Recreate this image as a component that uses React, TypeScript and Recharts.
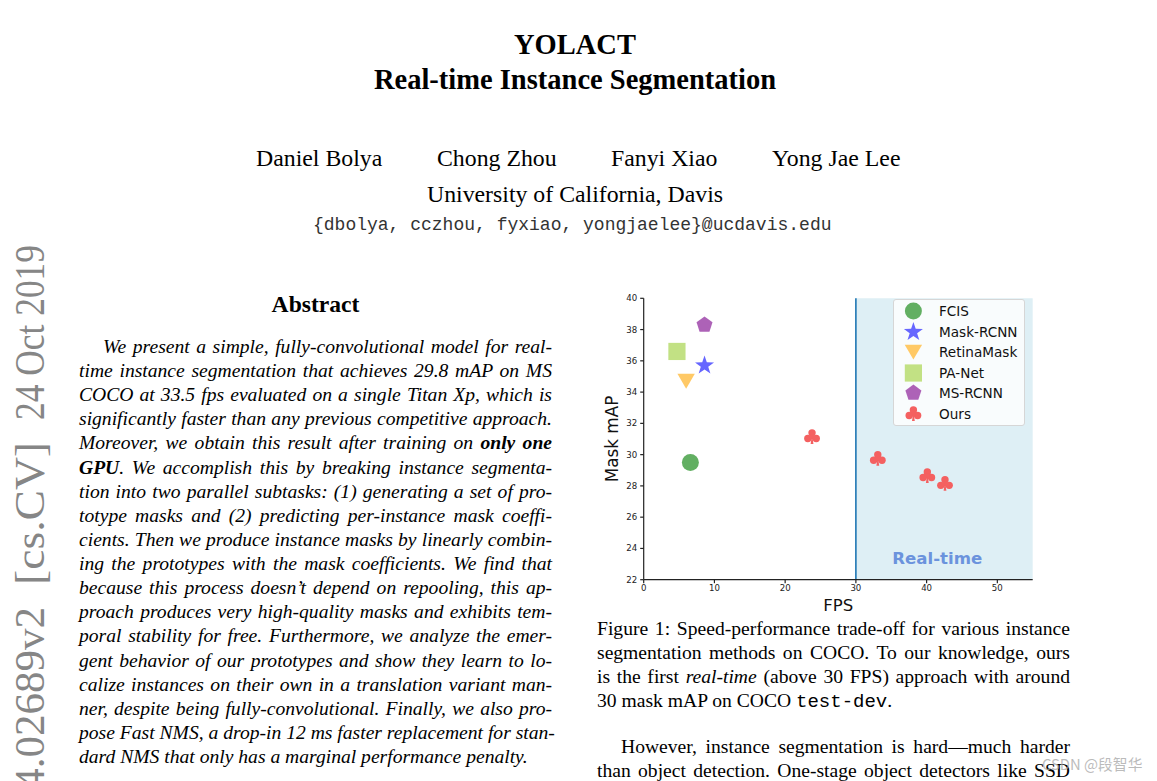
import React from "react";
import {
  ScatterChart,
  Scatter,
  XAxis,
  YAxis,
  ReferenceArea,
  ReferenceLine,
  ReferenceDot,
  Legend,
} from "recharts";

// speed (FPS) vs. mask mAP on COCO test-dev
const fcisFps = [6.6];
const fcisMap = [29.5];
const maskRcnnFps = [8.6];
const maskRcnnMap = [35.7];
const retinaMaskFps = [6.0];
const retinaMaskMap = [34.7];
const paNetFps = [4.7];
const paNetMap = [36.6];
const msRcnnFps = [8.6];
const msRcnnMap = [38.3];
const oursFps = [23.8, 33.1, 40.1, 42.6];
const oursMap = [31.1, 29.7, 28.6, 28.1];

const xTicks = [0, 10, 20, 30, 40, 50];
const yTicks = [22, 24, 26, 28, 30, 32, 34, 36, 38, 40];
const realTimeFrom = 30;
const realTimeLabel = { fps: 41.5, map: 23.4, text: "Real-time" };

const zip = (xs: number[], ys: number[]) => xs.map((x, i) => ({ fps: x, map: ys[i] }));

const SERIF = '"Liberation Serif", "Times New Roman", serif';
const MONO = '"Liberation Mono", "Courier New", monospace';
const SANS = '"DejaVu Sans", sans-serif';

type Marker = (cx: number, cy: number, color: string) => React.ReactElement;

const circle: Marker = (cx, cy, c) => <circle cx={cx} cy={cy} r={8.5} fill={c} />;

const star: Marker = (cx, cy, c) => {
  const pts: string[] = [];
  for (let i = 0; i < 10; i++) {
    const r = i % 2 === 0 ? 10 : 3.9;
    const a = (Math.PI / 5) * i - Math.PI / 2;
    pts.push(`${cx + r * Math.cos(a)},${cy + r * Math.sin(a)}`);
  }
  return <polygon points={pts.join(" ")} fill={c} />;
};

const triangleDown: Marker = (cx, cy, c) => (
  <polygon points={`${cx - 8.7},${cy - 7.3} ${cx + 8.7},${cy - 7.3} ${cx},${cy + 7.5}`} fill={c} />
);

const square: Marker = (cx, cy, c) => (
  <rect x={cx - 8.6} y={cy - 8.6} width={17.2} height={17.2} fill={c} />
);

const pentagon: Marker = (cx, cy, c) => {
  const pts: string[] = [];
  for (let i = 0; i < 5; i++) {
    const a = ((2 * Math.PI) / 5) * i - Math.PI / 2;
    pts.push(`${cx + 8.4 * Math.cos(a)},${cy + 8.4 * Math.sin(a)}`);
  }
  return <polygon points={pts.join(" ")} fill={c} />;
};

const club: Marker = (cx, cy, c) => (
  <g fill={c}>
    <circle cx={cx} cy={cy - 4.6} r={3.7} />
    <circle cx={cx - 4.2} cy={cy + 1} r={3.7} />
    <circle cx={cx + 4.2} cy={cy + 1} r={3.7} />
    <rect x={cx - 2} y={cy - 3} width={4} height={5} />
    <polygon points={`${cx - 0.6},${cy + 1} ${cx + 0.6},${cy + 1} ${cx + 1.4},${cy + 6.5} ${cx - 1.4},${cy + 6.5}`} />
  </g>
);

const series = [
  { name: "FCIS", data: zip(fcisFps, fcisMap), color: "#62af62", marker: circle },
  { name: "Mask-RCNN", data: zip(maskRcnnFps, maskRcnnMap), color: "#6666ff", marker: star },
  { name: "RetinaMask", data: zip(retinaMaskFps, retinaMaskMap), color: "#ffc966", marker: triangleDown },
  { name: "PA-Net", data: zip(paNetFps, paNetMap), color: "#c2e184", marker: square },
  { name: "MS-RCNN", data: zip(msRcnnFps, msRcnnMap), color: "#ad62b7", marker: pentagon },
  { name: "Ours", data: zip(oursFps, oursMap), color: "#f46060", marker: club },
];

function LegendBox() {
  return (
    <div
      style={{
        width: 132,
        height: 127,
        boxSizing: "border-box",
        background: "rgba(255,255,255,0.8)",
        border: "1px solid #d6d6d6",
        borderRadius: 3,
        position: "relative",
        fontFamily: SANS,
        fontSize: 13.6,
        color: "#111",
      }}
    >
      {series.map((s, i) => (
        <div key={s.name} style={{ position: "absolute", left: 0, top: 1 + i * 20.6, height: 20, width: 130 }}>
          <svg width={30} height={20} style={{ position: "absolute", left: 4, top: 0 }}>
            {s.marker(15.4, s.name === "Ours" ? 10.5 : 10, s.color)}
          </svg>
          <span style={{ position: "absolute", left: 45, top: 1, lineHeight: "18px", whiteSpace: "nowrap" }}>
            {s.name}
          </span>
        </div>
      ))}
    </div>
  );
}

function YLabel(props: any) {
  const vb = props.viewBox || { x: 0, y: 0, width: 0, height: 0 };
  const x = vb.x + 17;
  const y = vb.y + vb.height / 2;
  return (
    <text x={x} y={y} transform={`rotate(-90 ${x} ${y})`} textAnchor="middle" dominantBaseline="central"
      fontFamily={SANS} fontSize={16.8} fill="#111">
      Mask mAP
    </text>
  );
}

function XLabel(props: any) {
  const vb = props.viewBox || { x: 0, y: 0, width: 0, height: 0 };
  return (
    <text x={vb.x + vb.width / 2} y={vb.y + 26} textAnchor="middle" dominantBaseline="central"
      fontFamily={SANS} fontSize={16.5} fill="#111">
      FPS
    </text>
  );
}

function FpsChart() {
  const tick = { fontSize: 8.6, fill: "#222", fontFamily: SANS };
  return (
    <ScatterChart width={450} height={330} margin={{ top: 13.3, right: 12.3, bottom: 0, left: 0 }}>
      <ReferenceArea x1={realTimeFrom} x2={55} y1={22} y2={40} fill="#deeff5" fillOpacity={1} stroke="none" ifOverflow="visible" />
      <ReferenceLine x={realTimeFrom} stroke="#1f77b4" strokeWidth={1.6} />
      <XAxis
        type="number"
        dataKey="fps"
        domain={[0, 55]}
        ticks={xTicks}
        allowDataOverflow
        height={35.3}
        tick={tick}
        tickSize={3.5}
        tickMargin={2}
        stroke="#222"
        strokeWidth={1.2}
        label={<XLabel />}
      />
      <YAxis
        type="number"
        dataKey="map"
        domain={[22, 40]}
        ticks={yTicks}
        allowDataOverflow
        width={48.7}
        tick={tick}
        tickSize={3.5}
        tickMargin={3}
        stroke="#222"
        strokeWidth={1.2}
        label={<YLabel />}
      />
      <ReferenceDot
        x={realTimeLabel.fps}
        y={realTimeLabel.map}
        r={0}
        stroke="none"
        label={{
          value: realTimeLabel.text,
          position: "center",
          fill: "#6b93dd",
          fontSize: 16.6,
          fontWeight: "bold",
          fontFamily: SANS,
        }}
      />
      {series.map((s) => (
        <Scatter
          key={s.name}
          name={s.name}
          data={s.data}
          isAnimationActive={false}
          shape={(p: any) => s.marker(p.cx, p.cy, s.color)}
        />
      ))}
      <Legend
        layout="vertical"
        align="center"
        verticalAlign="middle"
        wrapperStyle={{ left: 298, top: 14, width: 132, height: 127 }}
        content={() => <LegendBox />}
      />
    </ScatterChart>
  );
}

type LineProps = {
  y: number;
  left: number;
  width: number;
  size?: number;
  last?: boolean;
  italic?: boolean;
  children: React.ReactNode;
};

function TextLine({ y, left, width, size = 19.6, last, italic, children }: LineProps) {
  return (
    <div
      style={{
        position: "absolute",
        top: y - 12,
        left,
        width,
        height: 24,
        lineHeight: "24px",
        fontSize: size,
        fontFamily: SERIF,
        fontStyle: italic ? "italic" : "normal",
        whiteSpace: "nowrap",
        textAlign: last ? "left" : "justify",
        textAlignLast: last ? "left" : "justify",
        color: "#000",
      }}
    >
      {children}
    </div>
  );
}

const abstractLines: React.ReactNode[] = [
  "We present a simple, fully-convolutional model for real-",
  "time instance segmentation that achieves 29.8 mAP on MS",
  "COCO at 33.5 fps evaluated on a single Titan Xp, which is",
  "significantly faster than any previous competitive approach.",
  <>Moreover, we obtain this result after training on <b>only one</b></>,
  <><b>GPU</b>. We accomplish this by breaking instance segmenta-</>,
  "tion into two parallel subtasks: (1) generating a set of pro-",
  "totype masks and (2) predicting per-instance mask coeffi-",
  "cients. Then we produce instance masks by linearly combin-",
  "ing the prototypes with the mask coefficients.  We find that",
  "because this process doesn\u2019t depend on repooling, this ap-",
  "proach produces very high-quality masks and exhibits tem-",
  "poral stability for free.  Furthermore, we analyze the emer-",
  "gent behavior of our prototypes and show they learn to lo-",
  "calize instances on their own in a translation variant man-",
  "ner, despite being fully-convolutional.  Finally, we also pro-",
  "pose Fast NMS, a drop-in 12 ms faster replacement for stan-",
  "dard NMS that only has a marginal performance penalty.",
];

// arXiv side stamp, pieces read bottom-to-top; bottom/top are page y extents
const stampPieces = [
  { text: "arXiv:1904.02689v2", bottom: 964, top: 607 },
  { text: "[cs.CV]", bottom: 585, top: 442 },
  { text: "24 Oct 2019", bottom: 420, top: 245 },
];

function ArxivStamp() {
  return (
    <svg width={60} height={781} style={{ position: "absolute", left: 0, top: 0 }}>
      {stampPieces.map((p) => (
        <text
          key={p.text}
          x={0}
          y={0}
          transform={`translate(44 ${p.bottom}) rotate(-90)`}
          fontFamily={SERIF}
          fontSize={42.5}
          fill="#868686"
          textLength={p.bottom - p.top}
          lengthAdjust="spacingAndGlyphs"
        >
          {p.text}
        </text>
      ))}
    </svg>
  );
}

export default function App() {
  return (
    <div
      style={{
        position: "absolute",
        left: 0,
        top: 0,
        width: 1157,
        height: 781,
        overflow: "hidden",
        background: "#fff",
        fontFamily: SERIF,
        color: "#000",
      }}
    >
      <ArxivStamp />

      <div style={{ position: "absolute", top: 27.5, left: 0, width: 1150, textAlign: "center", fontSize: 28.5, lineHeight: "34px", fontWeight: "bold" }}>
        YOLACT
      </div>
      <div style={{ position: "absolute", top: 63, left: 0, width: 1150, textAlign: "center", fontSize: 28.5, lineHeight: "34px", fontWeight: "bold" }}>
        Real-time Instance Segmentation
      </div>

      {[
        { name: "Daniel Bolya", left: 256 },
        { name: "Chong Zhou", left: 437 },
        { name: "Fanyi Xiao", left: 611 },
        { name: "Yong Jae Lee", left: 772 },
      ].map((a) => (
        <div key={a.name} style={{ position: "absolute", top: 143, left: a.left, fontSize: 23.8, lineHeight: "30px", whiteSpace: "nowrap" }}>
          {a.name}
        </div>
      ))}
      <div style={{ position: "absolute", top: 179, left: 0, width: 1150, textAlign: "center", fontSize: 23.8, lineHeight: "30px" }}>
        University of California, Davis
      </div>
      <div style={{ position: "absolute", top: 213, left: 313, fontSize: 18.0, lineHeight: "24px", fontFamily: MONO, whiteSpace: "nowrap", color: "#333" }}>
        {"{dbolya, cczhou, fyxiao, yongjaelee}@ucdavis.edu"}
      </div>

      <div style={{ position: "absolute", top: 289, left: 0, width: 631, textAlign: "center", fontSize: 23.6, lineHeight: "30px", fontWeight: "bold" }}>
        Abstract
      </div>

      {abstractLines.map((l, i) => (
        <TextLine
          key={i}
          y={347 + i * 24.12}
          left={i === 0 ? 103 : 79}
          width={i === 0 ? 449 : 473}
          italic
          last={i === abstractLines.length - 1}
        >
          {l}
        </TextLine>
      ))}

      <div style={{ position: "absolute", left: 595, top: 285, width: 450, height: 330 }}>
        <FpsChart />
      </div>

      <TextLine y={629} left={597} width={473}>Figure 1: Speed-performance trade-off for various instance</TextLine>
      <TextLine y={653} left={597} width={473}>segmentation methods on COCO. To our knowledge, ours</TextLine>
      <TextLine y={677} left={597} width={473}>
        is the first <i>real-time</i> (above 30 FPS) approach with around
      </TextLine>
      <TextLine y={701} left={597} width={473} last>
        30 mask mAP on COCO <span style={{ fontFamily: MONO, fontSize: 19 }}>test-dev</span>.
      </TextLine>
      <TextLine y={747} left={621} width={449}>However, instance segmentation is hard—much harder</TextLine>
      <TextLine y={771} left={597} width={473}>than object detection. One-stage object detectors like SSD</TextLine>

      <div
        style={{
          position: "absolute",
          left: 1042,
          top: 754,
          fontSize: 14.8,
          lineHeight: "20px",
          fontFamily: '"Noto Sans CJK SC", sans-serif',
          color: "rgba(165,165,165,0.75)",
          whiteSpace: "nowrap",
        }}
      >
        CSDN @段智华
      </div>
    </div>
  );
}
